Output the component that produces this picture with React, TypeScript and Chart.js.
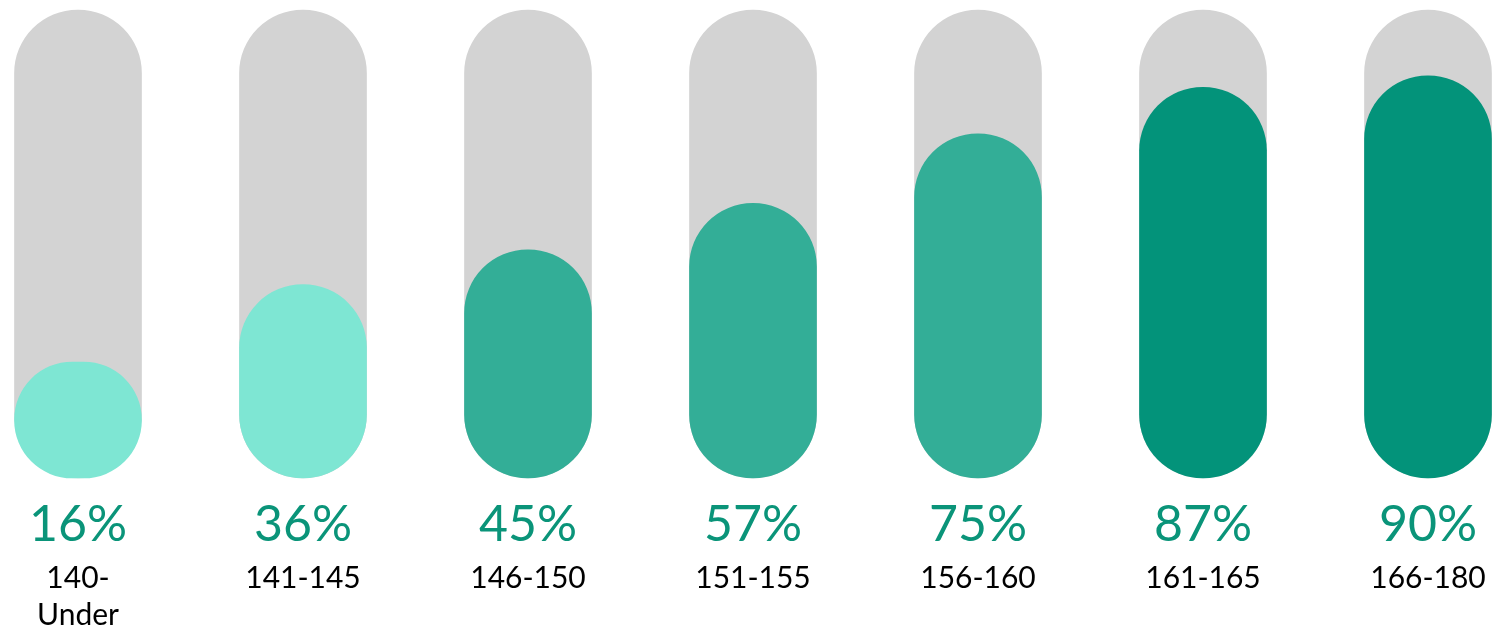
import React, { useEffect, useRef } from "react";
import { Chart, registerables } from "chart.js";

Chart.register(...registerables);

const categories: string[][] = [
  ["140-", "Under"],
  ["141-145"],
  ["146-150"],
  ["151-155"],
  ["156-160"],
  ["161-165"],
  ["166-180"],
];
const percentValues: number[] = [16, 36, 45, 57, 75, 87, 90];
const trackValues: number[] = [107, 107, 107, 107, 107, 107, 107];
const barColors: string[] = [
  "#7EE6D3",
  "#7EE6D3",
  "#33AE97",
  "#33AE97",
  "#33AE97",
  "#03937A",
  "#03937A",
];
const TEXT_TEAL = "#0A9479";
const FONT = "Lato, 'Open Sans', sans-serif";

const labelPlugin = {
  id: "pillLabels",
  afterDatasetsDraw(chart: any) {
    const ctx = chart.ctx;
    const xs = chart.scales.x;
    const bottom = chart.chartArea.bottom;
    ctx.save();
    ctx.textAlign = "center";
    ctx.textBaseline = "alphabetic";
    percentValues.forEach((v, i) => {
      const px = xs.getPixelForValue(i);
      ctx.font = `50px ${FONT}`;
      ctx.fillStyle = TEXT_TEAL;
      ctx.fillText(`${v}%`, px, bottom + 63);
      ctx.font = `30px ${FONT}`;
      ctx.fillStyle = "#000000";
      categories[i].forEach((line, j) => {
        ctx.fillText(line, px, bottom + 110 + j * 37);
      });
    });
    ctx.restore();
  },
};

export default function App() {
  const ref = useRef<HTMLCanvasElement | null>(null);
  useEffect(() => {
    if (!ref.current) return;
    const chart = new Chart(ref.current, {
      type: "bar",
      data: {
        labels: categories.map((c) => c.join(" ")),
        datasets: [
          {
            data: percentValues,
            backgroundColor: barColors,
            borderRadius: 64,
            borderSkipped: false,
            barThickness: 127,
            grouped: false,
            base: -14,
            clip: false as any,
            order: 0,
          },
          {
            data: trackValues,
            backgroundColor: "#D3D3D3",
            borderRadius: 64,
            borderSkipped: false,
            barThickness: 127,
            grouped: false,
            base: -14,
            clip: false as any,
            order: 1,
          },
        ],
      },
      options: {
        responsive: false,
        animation: false,
        devicePixelRatio: 1,
        layout: { padding: { left: 78, right: 65, top: 10, bottom: 151 } },
        plugins: { legend: { display: false }, tooltip: { enabled: false } },
        scales: {
          x: { display: false, offset: false, grid: { display: false } },
          y: { display: false, min: -14, max: 107 },
        },
      },
      plugins: [labelPlugin],
    });
    return () => chart.destroy();
  }, []);
  return (
    <div style={{ position: "absolute", left: 0, top: 0, width: 1493, height: 629, background: "#fff" }}>
      <canvas ref={ref} width={1493} height={629} />
    </div>
  );
}
